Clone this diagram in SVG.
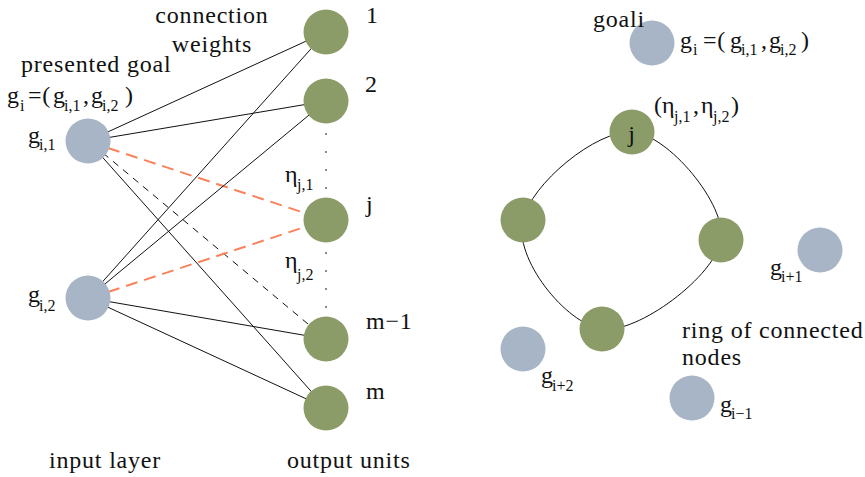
<svg xmlns="http://www.w3.org/2000/svg" width="865" height="477" viewBox="0 0 865 477">
<style>
.t{font-family:"Liberation Serif","Times New Roman",serif;font-size:24px;fill:#111;letter-spacing:0.8px}
.s{font-size:16px;letter-spacing:0}
.gn{fill:#8c9c68}
.bn{fill:#a7b5c6}
.ln{stroke:#111;stroke-width:1;fill:none}
.dk{stroke:#111;stroke-width:1;stroke-dasharray:7 6;fill:none}
.or{stroke:#f8825a;stroke-width:2;stroke-dasharray:12 7;fill:none}
.dot{stroke:#666;stroke-width:2;stroke-linecap:round;stroke-dasharray:0 18;fill:none}
</style>
<rect width="865" height="477" fill="#fff"/>
<g id="connectors">
<line class="ln" x1="88" y1="141" x2="326" y2="32"/>
<line class="ln" x1="88" y1="141" x2="326" y2="101"/>
<line class="ln" x1="88" y1="141" x2="326" y2="408"/>
<line class="dk" x1="103" y1="153" x2="326" y2="339"/>
<line class="or" x1="108" y1="148" x2="326" y2="220"/>
<line class="ln" x1="88" y1="298" x2="326" y2="32"/>
<line class="ln" x1="88" y1="298" x2="326" y2="101"/>
<line class="or" x1="108" y1="292" x2="326" y2="220"/>
<line class="ln" x1="88" y1="298" x2="326" y2="339"/>
<line class="ln" x1="88" y1="298" x2="326" y2="408"/>
<line class="dot" x1="326" y1="134" x2="326" y2="190"/>
<line class="dot" x1="326" y1="253" x2="326" y2="310"/>
<path class="ln" d="M632,132 C668,134 727,205 721,240 C715,276 638,334 602,329 C566,324 513,258 523,220 C531,184 596,130 632,132 Z"/>
</g>
<g id="label-connection-weights">
<text class="t" x="212" y="23" text-anchor="middle">connection</text>
<text class="t" x="212" y="52" text-anchor="middle">weights</text>
</g>
<g id="label-presented-goal">
<text class="t" x="21" y="72">presented goal</text>
<text class="t"><tspan x="7" y="103">g</tspan><tspan class="s" x="20" y="111">i</tspan><tspan x="28" y="103">=(</tspan><tspan x="53" y="103">g</tspan><tspan class="s" x="64" y="111">i,1</tspan><tspan x="83" y="103">,</tspan><tspan x="91" y="103">g</tspan><tspan class="s" x="102" y="111">i,2</tspan><tspan x="125" y="103">)</tspan></text>
</g>
<g id="input-g1">
<circle class="bn" cx="88" cy="141" r="22.5"/>
<text class="t"><tspan x="28" y="143">g</tspan><tspan class="s" x="39" y="150">i,1</tspan></text>
</g>
<g id="input-g2">
<circle class="bn" cx="88" cy="298" r="22.5"/>
<text class="t"><tspan x="28" y="302">g</tspan><tspan class="s" x="39" y="311">i,2</tspan></text>
</g>
<g id="out-1">
<circle class="gn" cx="326" cy="32" r="22.5"/>
<text class="t" x="366" y="23">1</text>
</g>
<g id="out-2">
<circle class="gn" cx="326" cy="101" r="22.5"/>
<text class="t" x="365" y="92">2</text>
</g>
<g id="out-j">
<circle class="gn" cx="326" cy="220" r="22.5"/>
<text class="t" x="366" y="212">j</text>
<text class="t"><tspan x="285" y="182">η</tspan><tspan class="s" x="297" y="190">j,1</tspan></text>
<text class="t"><tspan x="285" y="268">η</tspan><tspan class="s" x="297" y="280">j,2</tspan></text>
</g>
<g id="out-m1">
<circle class="gn" cx="326" cy="339" r="22.5"/>
<text class="t" x="366" y="329">m−1</text>
</g>
<g id="out-m">
<circle class="gn" cx="326" cy="408" r="22.5"/>
<text class="t" x="366" y="399">m</text>
</g>
<g id="label-layers">
<text class="t" x="49" y="468">input layer</text>
<text class="t" x="287" y="468">output units</text>
</g>
<g id="goal-i">
<circle class="bn" cx="652" cy="43" r="22.5"/>
<text class="t" x="593" y="27">goali</text>
<text class="t"><tspan x="680" y="48">g</tspan><tspan class="s" x="693" y="55">i</tspan><tspan x="703" y="48">=(</tspan><tspan x="730" y="48">g</tspan><tspan class="s" x="741" y="55">i,1</tspan><tspan x="761" y="48">,</tspan><tspan x="769" y="48">g</tspan><tspan class="s" x="780" y="55">i,2</tspan><tspan x="801" y="48">)</tspan></text>
</g>
<g id="ring-j">
<circle class="gn" cx="632" cy="132" r="22.5"/>
<text class="t" x="632" y="142" text-anchor="middle">j</text>
<text class="t"><tspan x="654" y="113">(</tspan><tspan x="662" y="113">η</tspan><tspan class="s" x="674" y="122">j,1</tspan><tspan x="693" y="113">,</tspan><tspan x="701" y="113">η</tspan><tspan class="s" x="713" y="122">j,2</tspan><tspan x="731" y="113">)</tspan></text>
</g>
<g id="ring-left">
<circle class="gn" cx="523" cy="220" r="22.5"/>
</g>
<g id="ring-right">
<circle class="gn" cx="721" cy="240" r="22.5"/>
</g>
<g id="ring-bottom">
<circle class="gn" cx="602" cy="329" r="22.5"/>
</g>
<g id="label-ring">
<text class="t" x="682" y="338">ring of connected</text>
<text class="t" x="682" y="365">nodes</text>
</g>
<g id="goal-i-plus-1">
<circle class="bn" cx="820" cy="250" r="22.5"/>
<text class="t"><tspan x="770" y="275">g</tspan><tspan class="s" x="781" y="282">i+1</tspan></text>
</g>
<g id="goal-i-plus-2">
<circle class="bn" cx="523" cy="349" r="22.5"/>
<text class="t"><tspan x="541" y="383">g</tspan><tspan class="s" x="552" y="391">i+2</tspan></text>
</g>
<g id="goal-i-minus-1">
<circle class="bn" cx="692" cy="398" r="22.5"/>
<text class="t"><tspan x="720" y="412">g</tspan><tspan class="s" x="731" y="419">i−1</tspan></text>
</g>
</svg>
